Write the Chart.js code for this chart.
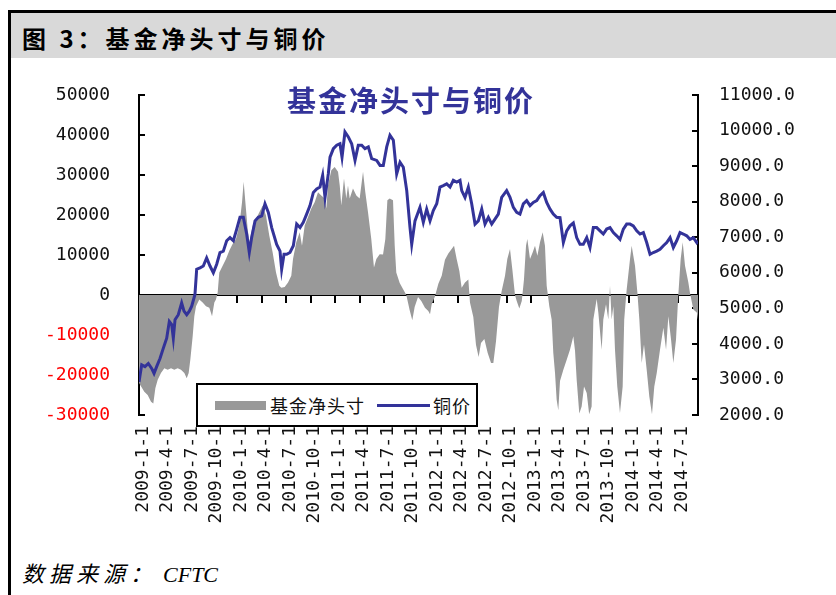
<!DOCTYPE html>
<html>
<head>
<meta charset="utf-8">
<script src="https://cdn.jsdelivr.net/npm/chart.js@4.4.0/dist/chart.umd.min.js"></script>
<style>
    body { margin: 0; width: 836px; height: 595px; overflow: hidden; background: #fff; position: relative; font-family: "Noto Sans CJK SC", sans-serif; }
    #frame { position: absolute; left: 8px; top: 10px; width: 840px; height: 600px; border-left: 3px solid #000; border-top: 3px solid #000; z-index: 3; pointer-events: none; }
    #head { position: absolute; left: 11px; top: 13px; width: 830px; height: 45px; background: #d9d9d9; }
    #headText { position: absolute; left: 22px; top: 26px; font-size: 24px; line-height: 24px; font-weight: bold; color: #000; letter-spacing: 4px; white-space: nowrap; }
    #wrap { position: absolute; left: 0; top: 61px; width: 836px; height: 470px; }
    #plotTitle { position: absolute; left: 287px; top: 85px; font-size: 29px; line-height: 29px; font-weight: bold; color: #333399; letter-spacing: 2px; white-space: nowrap; }
    #legend { position: absolute; left: 196px; top: 383px; width: 282px; height: 44px; box-sizing: border-box; border: 2px solid #000; background: #fff; display: flex; align-items: center; padding-left: 17px; font-size: 18px; color: #111; }
    #legend .area { width: 51px; height: 9px; background: #999999; margin-right: 4px; }
    #legend .line { width: 53px; height: 3px; background: #333399; margin-left: 12px; margin-right: 3px; }
    #legend span { letter-spacing: 1px; white-space: nowrap; }
    #source { position: absolute; left: 22px; top: 561px; font-size: 22px; line-height: 22px; font-style: italic; color: #000; white-space: nowrap; }
    #source .cn { letter-spacing: 5px; }
    #source .en { font-family: "Liberation Serif", serif; margin-left: 6px; }
</style>
</head>
<body>
<div id="head"></div>
<div id="headText">图 3：基金净头寸与铜价</div>
<div id="frame"></div>
<div id="wrap"><canvas id="cftcChart" width="836" height="470"></canvas></div>
<div id="plotTitle">基金净头寸与铜价</div>
<div id="legend">
    <div class="area"></div><span>基金净头寸</span>
    <div class="line"></div><span>铜价</span>
</div>
<div id="source"><span class="cn">数据来源：</span><span class="en">CFTC</span></div>

<script>
// months counted from 2009-01-01
const netMonth = [
    0.00, 0.65, 1.06, 1.47, 1.75, 2.00, 2.29, 2.69, 3.10, 3.51, 3.92, 4.32, 4.73, 5.14, 5.55, 5.84,
    6.08, 6.28, 6.57, 6.77, 6.98, 7.38, 7.79, 8.20, 8.61, 8.94, 9.22, 9.42, 9.63, 9.83, 10.24, 10.65,
    11.06, 11.47, 11.87, 12.28, 12.61, 12.81, 13.02, 13.30, 13.50, 13.92, 14.32, 14.73, 15.14, 15.54,
    15.95, 16.36, 16.77, 17.17, 17.42, 17.83, 18.24, 18.64, 18.85, 19.25, 19.67, 19.95, 20.28, 20.69,
    21.09, 21.50, 21.91, 22.31, 22.73, 22.93, 23.13, 23.54, 23.95, 24.36, 24.57, 24.76, 25.09, 25.37,
    25.58, 25.79, 26.19, 26.60, 27.01, 27.42, 27.70, 28.03, 28.43, 28.76, 29.05, 29.46, 29.87, 30.15,
    30.40, 30.68, 31.09, 31.30, 31.49, 31.91, 32.31, 32.72, 33.13, 33.45, 33.74, 34.15, 34.55, 35.00,
    35.41, 35.62, 35.82, 36.23, 36.64, 37.05, 37.45, 37.86, 38.27, 38.56, 38.88, 39.21, 39.49, 39.90,
    40.31, 40.51, 40.92, 41.25, 41.57, 41.86, 42.27, 42.68, 43.09, 43.37, 43.70, 44.06, 44.39, 44.80,
    45.08, 45.41, 45.69, 46.02, 46.23, 46.55, 46.85, 47.12, 47.37, 47.53, 47.86, 48.18, 48.47, 48.76,
    49.08, 49.41, 49.69, 49.90, 50.22, 50.51, 50.71, 50.92, 51.12, 51.32, 51.53, 51.94, 52.35, 52.75,
    53.16, 53.37, 53.57, 53.89, 54.18, 54.47, 54.80, 55.10, 55.40, 55.61, 56.02, 56.22, 56.63, 56.83,
    57.16, 57.44, 57.65, 57.85, 58.06, 58.26, 58.54, 58.87, 59.20, 59.39, 59.69, 60.10, 60.30, 60.71,
    61.00, 61.24, 61.53, 61.81, 62.14, 62.46, 62.79, 63.07, 63.37, 63.77, 64.18, 64.51, 64.79, 65.12,
    65.40, 65.73, 66.01, 66.30, 66.55, 66.83, 67.24, 67.44, 67.85, 68.27, 68.42
];
const netPosition = [
    -22000, -24200, -25000, -26700, -27100, -23300, -21200, -19500, -18300, -18700, -18300, -18700, -18300, -18700, -19500, -20800,
    -19500, -16200, -10300, -5300, -2800, -1100, -1900, -2800, -3200, -5300, -1900, -1100, 600, 5600, 7300, 9000,
    11100, 12800, 14000, 17400, 23200, 28300, 23200, 16500, 13200, 17400, 19000, 20700, 22400, 19900,
    14800, 10600, 5600, 2300, 1800, 2000, 3100, 4800, 9000, 13200, 15700, 12300, 17400, 19500,
    21600, 23200, 25700, 24900, 24100, 21600, 27400, 31200, 32000, 30800, 27400, 22400, 29100, 24100,
    27400, 24100, 26600, 24900, 24100, 30800, 25700, 20700, 14000, 6900, 9000, 10200, 10100, 14000,
    23700, 24100, 23700, 12300, 5600, 3000, 1500, 0, -3800, -6300, -3000, -500, -1500, -3200,
    -4000, -4800, -2400, -300, 2800, 4800, 8800, 10400, 11500, 12300, 9000, 6000, 1800, 3100,
    3900, -1900, -5500, -12500, -15500, -12000, -11000, -14500, -17000, -17000, -11500, -3000, 1000, 4800,
    9000, 11500, 6500, 0, -1500, -3400, -1500, 3900, 12300, 14000, 9000, 10600, 12300, 9800,
    13200, 15700, 12300, 2300, -2800, -6100, -14500, -19500, -26200, -28800, -21500, -18700, -16200, -13700,
    -10300, -14000, -21200, -29600, -27900, -22900, -24500, -29800, -27900, -6100, -1000, -4400, -13700, -6100,
    -2300, -6100, 2300, -6100, -2800, -13700, -22900, -29500, -22900, -6100, 1400, 9000, 12300, 7300,
    600, -6100, -17000, -12400, -18700, -25400, -29800, -22900, -19500, -13700, -8200, -13700, -5300, -11100,
    -17000, -11100, 0, 9000, 13200, 7300, 3100, 500, -3600, -4400, -6100
];

const copperMonth = [
    0.00, 0.33, 0.73, 1.14, 1.55, 1.84, 2.16, 2.57, 2.98, 3.39, 3.71, 4.00, 4.20, 4.41, 4.81, 5.22,
    5.51, 5.84, 6.16, 6.45, 6.85, 7.06, 7.47, 7.87, 8.28, 8.69, 9.10, 9.51, 9.91, 10.32, 10.73, 11.14,
    11.55, 11.96, 12.36, 12.77, 13.18, 13.50, 13.79, 14.20, 14.60, 15.02, 15.42, 15.83, 16.24, 16.85,
    17.26, 17.46, 17.75, 18.08, 18.48, 18.89, 19.30, 19.71, 20.11, 20.52, 20.93, 21.34, 21.75, 22.15,
    22.48, 22.77, 23.17, 23.38, 23.79, 24.20, 24.60, 24.85, 25.21, 25.62, 26.03, 26.44, 26.84, 27.26,
    27.66, 28.07, 28.48, 29.09, 29.50, 29.90, 30.32, 30.72, 31.13, 31.54, 31.95, 32.35, 32.77, 33.17,
    33.38, 33.78, 34.39, 34.80, 35.21, 35.62, 36.02, 36.44, 36.84, 37.25, 37.66, 38.07, 38.47, 38.89,
    39.29, 39.50, 39.90, 40.31, 40.72, 41.13, 41.53, 41.95, 42.35, 42.76, 43.17, 43.57, 43.98, 44.39,
    45.00, 45.41, 45.82, 46.23, 46.63, 47.04, 47.45, 47.86, 48.26, 48.68, 49.08, 49.49, 49.90, 50.31,
    50.71, 51.12, 51.53, 51.94, 52.35, 52.75, 53.16, 53.57, 53.98, 54.38, 54.80, 55.20, 55.61, 56.02,
    56.43, 56.83, 57.24, 57.65, 58.06, 58.47, 58.87, 59.28, 59.69, 60.10, 60.50, 60.92, 61.32, 61.73,
    62.14, 62.55, 62.95, 63.37, 63.77, 64.18, 64.59, 65.00, 65.40, 65.81, 66.22, 66.62, 67.04, 67.44,
    67.85, 68.27, 68.42
];
const copperPrice = [
    2930, 3410, 3360, 3450, 3310, 3170, 3360, 3590, 3880, 4160, 4630, 4540, 4160, 4680, 4820, 5150,
    4920, 4820, 4920, 5060, 5390, 6100, 6140, 6190, 6420, 6190, 6000, 6240, 6570, 6610, 6900, 6990,
    6900, 7230, 7560, 7560, 7090, 6570, 6990, 7460, 7560, 7600, 7940, 7700, 7270, 6800,
    6610, 6100, 6520, 6520, 6570, 6760, 7370, 7270, 7420, 7650, 7890, 8260, 8360, 8410,
    8740, 8120, 8780, 9250, 9490, 9590, 9630, 9250, 9960, 9820, 9630, 9160, 9590, 9590,
    9490, 9540, 9210, 9160, 9020, 9020, 9540, 9870, 9730, 8780, 9110, 8970, 8310, 7270,
    6800, 7460, 7840, 7420, 7790, 7460, 7750, 7940, 8410, 8450, 8500, 8410, 8600, 8550,
    8600, 8310, 8120, 8410, 7940, 7370, 7460, 7790, 7370, 7560, 7370, 7510, 7650, 8120,
    8310, 8120, 7840, 7700, 7650, 7940, 8030, 7890, 7980, 8030, 8170, 8260, 7980, 7790,
    7650, 7560, 7550, 6850, 7180, 7320, 7400, 6990, 6800, 6800, 6990, 6710, 7270, 7270,
    7180, 7090, 7230, 7270, 7130, 7040, 6940, 7230, 7370, 7370, 7320, 7180, 7090, 7130,
    6850, 6520, 6570, 6610, 6660, 6760, 6850, 6990, 6710, 6900, 7130, 7090, 7040, 6940,
    6990, 6850, 6900
];

const quarterMonth = [0, 3, 6, 9, 12, 15, 18, 21, 24, 27, 30, 33, 36, 39, 42, 45, 48, 51, 54, 57, 60, 63, 66];
const quarterLabels = [
    '2009-1-1', '2009-4-1', '2009-7-1', '2009-10-1', '2010-1-1', '2010-4-1', '2010-7-1', '2010-10-1',
    '2011-1-1', '2011-4-1', '2011-7-1', '2011-10-1', '2012-1-1', '2012-4-1', '2012-7-1', '2012-10-1',
    '2013-1-1', '2013-4-1', '2013-7-1', '2013-10-1', '2014-1-1', '2014-4-1', '2014-7-1'
];

const tickFont = { family: "'DejaVu Sans Mono', monospace", size: 18 };

const setQuarterTicks = scale => {
    scale.ticks = quarterMonth.map(v => ({ value: v }));
};

// keep the plot box fixed: no extra room for half labels
const noPadding = scale => {
    scale.paddingTop = 0;
    scale.paddingBottom = 0;
    scale.paddingLeft = 0;
    scale.paddingRight = 0;
};

new Chart(document.getElementById('cftcChart'), {
    type: 'line',
    data: {
        datasets: [
            {
                label: '铜价',
                data: copperMonth.map((m, i) => ({ x: m, y: copperPrice[i] })),
                xAxisID: 'x',
                yAxisID: 'y1',
                borderColor: '#333399',
                borderWidth: 3,
                pointRadius: 0,
                fill: false,
                order: 0
            },
            {
                label: '基金净头寸',
                data: netMonth.map((m, i) => ({ x: m, y: netPosition[i] })),
                xAxisID: 'x',
                yAxisID: 'y',
                borderWidth: 0,
                borderColor: 'rgba(0,0,0,0)',
                backgroundColor: '#999999',
                fill: 'origin',
                pointRadius: 0,
                order: 1
            }
        ]
    },
    options: {
        responsive: false,
        animation: false,
        devicePixelRatio: 1,
        layout: { padding: { top: 34, left: 0, right: 0, bottom: 0 } },
        plugins: {
            legend: { display: false },
            tooltip: { enabled: false }
        },
        scales: {
            x: {
                type: 'linear',
                axis: 'x',
                position: { y: 0 },
                min: 0,
                max: 68.42,
                afterBuildTicks: setQuarterTicks,
                afterFit: noPadding,
                ticks: { display: false },
                grid: { drawOnChartArea: false, drawTicks: true, tickLength: 7, color: '#000', lineWidth: 2 },
                border: { display: true, color: '#000', width: 2 }
            },
            xl: {
                type: 'linear',
                axis: 'x',
                position: 'bottom',
                min: -0.5,
                max: 67.92,
                afterBuildTicks: setQuarterTicks,
                afterFit: s => { noPadding(s); s.height = 116; },
                grid: { display: false, drawTicks: false },
                border: { display: false },
                ticks: {
                    autoSkip: false,
                    maxRotation: 90,
                    minRotation: 90,
                    padding: 11,
                    font: tickFont,
                    color: '#111',
                    callback: (v, i) => quarterLabels[i]
                }
            },
            y: {
                type: 'linear',
                position: 'left',
                min: -30000,
                max: 50000,
                afterFit: s => { noPadding(s); s.width = 139; },
                ticks: {
                    stepSize: 10000,
                    padding: 35,
                    font: tickFont,
                    color: c => c.tick.value < 0 ? '#ff0000' : '#111',
                    callback: v => String(v)
                },
                grid: { drawOnChartArea: false, tickLength: -6, color: '#000', lineWidth: 2 },
                border: { color: '#000', width: 2 }
            },
            y1: {
                type: 'linear',
                position: 'right',
                min: 2000,
                max: 11000,
                afterFit: s => { noPadding(s); s.width = 138; },
                ticks: {
                    stepSize: 1000,
                    padding: 27,
                    font: tickFont,
                    color: '#111',
                    callback: v => v.toFixed(1)
                },
                grid: { drawOnChartArea: false, tickLength: -6, color: '#000', lineWidth: 2 },
                border: { color: '#000', width: 2 }
            }
        }
    }
});
</script>
</body>
</html>
